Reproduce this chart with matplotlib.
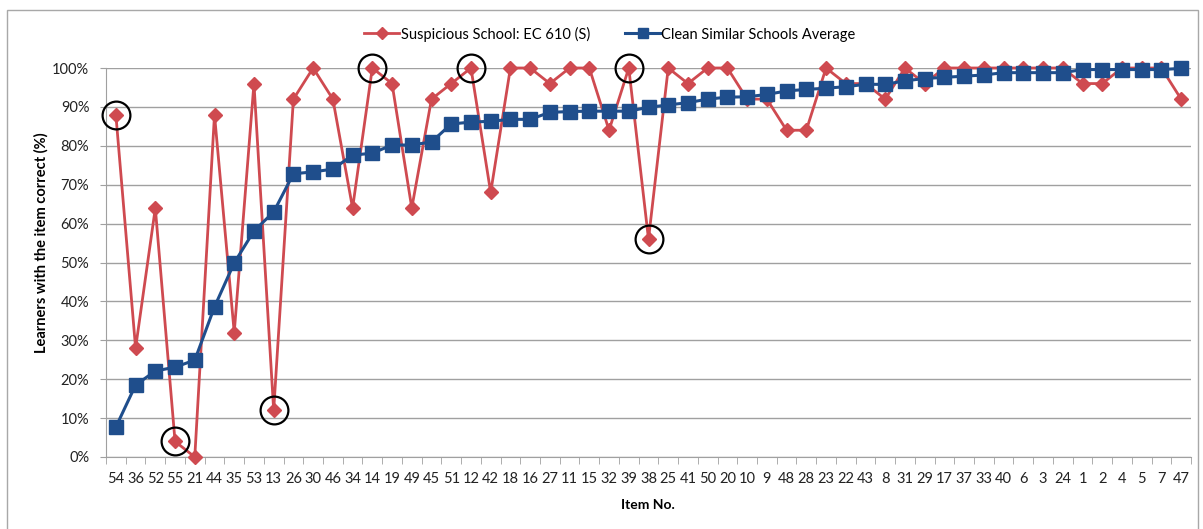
import matplotlib
matplotlib.use("Agg")
import numpy as np
import matplotlib.pyplot as plt
from matplotlib.patches import Rectangle
from matplotlib.ticker import PercentFormatter

# item numbers, ordered by the clean-schools average
items = [54, 36, 52, 55, 21, 44, 35, 53, 13, 26, 30, 46, 34, 14, 19, 49, 45, 51, 12,
         42, 18, 16, 27, 11, 15, 32, 39, 38, 25, 41, 50, 20, 10, 9, 48, 28, 23, 22,
         43, 8, 31, 29, 17, 37, 33, 40, 6, 3, 24, 1, 2, 4, 5, 7, 47]

suspicious = [88, 28, 64, 4, 0, 88, 32, 96, 12, 92, 100, 92, 64, 100, 96, 64, 92, 96, 100,
              68, 100, 100, 96, 100, 100, 84, 100, 56, 100, 96, 100, 100, 92, 92, 84, 84, 100, 96,
              96, 92, 100, 96, 100, 100, 100, 100, 100, 100, 100, 96, 96, 100, 100, 100, 92]

clean_avg = [7.7, 18.5, 22.1, 23.1, 24.9, 38.6, 49.9, 58.1, 63.0, 72.8, 73.3, 74.0, 77.6, 78.1,
             80.2, 80.2, 81.0, 85.6, 86.1, 86.3, 86.8, 86.8, 88.6, 88.8, 88.9, 88.9, 88.9, 89.9,
             90.5, 91.1, 92.0, 92.5, 92.6, 93.2, 94.1, 94.5, 94.8, 95.2, 95.8, 95.8, 96.7, 97.3,
             97.6, 97.9, 98.2, 98.8, 98.8, 98.8, 98.8, 99.6, 99.6, 99.6, 99.6, 99.6, 99.9]

# positions of the circled (suspicious) items
flagged = [0, 3, 8, 13, 18, 26, 27]

RED = "#CF4A50"
BLUE = "#1F4E8C"
GRID = "#A0A0A0"
W, H = 1203, 529

plt.rcParams["font.family"] = ["Lato", "DejaVu Sans"]

fig = plt.figure(figsize=(W / 100, H / 100), dpi=100)
ax = fig.add_axes([106 / W, (H - 457) / H, (1191 - 106) / W, (457 - 68) / H])

x = np.arange(len(items))
ax.plot(x, suspicious, color=RED, lw=2.0, marker="D", ms=7.5, mec=RED, mfc=RED,
        label="Suspicious School: EC 610 (S)", clip_on=False, zorder=3)
ax.plot(x, clean_avg, color=BLUE, lw=2.2, marker="s", ms=9.5, mec=BLUE, mfc=BLUE,
        label="Clean Similar Schools Average", clip_on=False, zorder=4)
ax.plot(x[flagged], [suspicious[i] for i in flagged], ls="none", marker="o", ms=20,
        mfc="none", mec="black", mew=1.6, clip_on=False, zorder=5)

ax.set_xlim(-0.5, len(items) - 0.5)
ax.set_ylim(0, 100)
ax.set_yticks(range(0, 101, 10))
ax.yaxis.set_major_formatter(PercentFormatter(decimals=0))
ax.set_xticks(x)
ax.set_xticklabels(items)
ax.set_xticks(np.arange(-0.5, len(items)), minor=True)
ax.tick_params(axis="x", which="major", length=0, pad=11, labelsize=10.5, colors="#222222")
ax.tick_params(axis="x", which="minor", length=5, color=GRID)
ax.tick_params(axis="y", length=4, color=GRID, pad=8, labelsize=10.5, colors="#222222")

ax.grid(axis="y", color=GRID, lw=1)
ax.set_axisbelow(True)
for s in ["top", "right"]:
    ax.spines[s].set_visible(False)
for s in ["left", "bottom"]:
    ax.spines[s].set_color(GRID)

fig.text(648 / W, 1 - 505 / H, "Item No.", ha="center", va="center",
         fontsize=10, fontweight="bold")
fig.text(41 / W, 1 - 243 / H, "Learners with the item correct (%)", ha="center",
         va="center", rotation=90, fontsize=10.5, fontweight="bold")

fig.legend(loc="center", bbox_to_anchor=(610 / W, 1 - 34 / H), ncol=2, frameon=False,
           fontsize=10.5, handlelength=2.4, handletextpad=0.1, columnspacing=2.4,
           markerscale=0.8)

fig.patches.append(Rectangle((7 / W, -0.02), (1198 - 7) / W, 1.02 - 10 / H,
                             transform=fig.transFigure, fill=False, ec="#A8A8A8", lw=1))

fig.savefig("out.png", dpi=100)
